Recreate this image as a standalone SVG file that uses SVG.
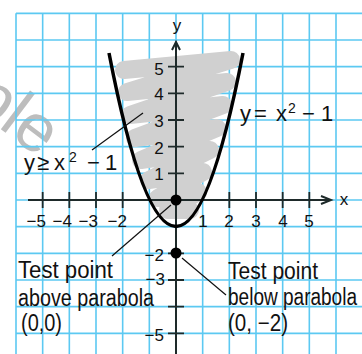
<svg xmlns="http://www.w3.org/2000/svg" width="362" height="354" viewBox="0 0 362 354">
<style>
.grid{stroke:#5CC9F2;stroke-width:1.6;fill:none}
.axis{stroke:#1E2A2A;stroke-width:2;fill:none}
.tick{stroke:#1E2A2A;stroke-width:1.8}
.lead{stroke:#111;stroke-width:1.2;fill:none}
.t{font-family:"Liberation Sans",Arial,sans-serif;fill:#111}
.num{font-size:17px}
.lab{font-size:23px}
.eq{font-size:22px}
.sup{font-size:14px}
.wm{font-family:"Liberation Sans",Arial,sans-serif;font-size:67px;fill:#BDBDBD}
</style>
<rect width="362" height="354" fill="#fff"/>
<text class="wm" transform="translate(39,158) rotate(37)" text-anchor="end">Sample</text>
<g id="grid">
<path class="grid" d="M16 13.33V354M42.67 13.33V354M69.33 13.33V354M96 13.33V354M122.67 13.33V354M149.33 13.33V354M176 13.33V354M202.67 13.33V354M229.33 13.33V354M256 13.33V354M282.67 13.33V354M309.33 13.33V354M336 13.33V354M16 13.33H362M16 40H362M16 66.67H362M16 93.33H362M16 120H362M16 146.67H362M16 173.33H362M16 200H362M16 226.67H362M16 253.33H362M16 280H362M16 306.67H362M16 333.33H362"/>
</g>
<g id="shading">
<path d="M124 70 L231 60 L127 92 L227 82 L130 115 L223 105 L135 138 L217 128 L141 160 L210 150 L149 180 L203 172 L158 198 L198 192 L168 210 L190 210" fill="none" stroke="#D0D0D0" stroke-width="18" stroke-linecap="round" stroke-linejoin="round"/>
</g>
<g id="axes">
<path class="axis" d="M28 200H331M321 196L331 200L321 204"/>
<path class="axis" d="M176 354V42M172 50L176 42L180 50"/>
<path class="tick" d="M168 66.67H184M168 93.33H184M168 120H184M168 146.67H184M168 173.33H184M168 253.33H184M168 280H184M168 306.67H184M168 333.33H184M42.67 192V208M69.33 192V208M96 192V208M122.67 192V208M229.33 192V208M256 192V208M282.67 192V208M309.33 192V208"/>
<text class="t num" x="344" y="205" text-anchor="middle">x</text>
<text class="t num" x="177" y="31" text-anchor="middle">y</text>
</g>
<g id="tick-labels" class="t num">
<text x="159" y="75" text-anchor="middle">5</text>
<text x="159" y="100" text-anchor="middle">4</text>
<text x="159" y="127" text-anchor="middle">3</text>
<text x="159" y="154" text-anchor="middle">2</text>
<text x="159" y="180" text-anchor="middle">1</text>
<text x="164" y="261" text-anchor="end">−2</text>
<text x="165" y="285" text-anchor="end">−3</text>
<text x="164" y="341" text-anchor="end">−5</text>
<text x="46" y="227" text-anchor="end">−5</text>
<text x="72" y="227" text-anchor="end">−4</text>
<text x="98" y="227" text-anchor="end">−3</text>
<text x="127" y="227" text-anchor="end">−2</text>
<text x="203" y="227" text-anchor="middle">1</text>
<text x="229" y="227" text-anchor="middle">2</text>
<text x="256" y="227" text-anchor="middle">3</text>
<text x="283" y="227" text-anchor="middle">4</text>
<text x="309" y="227" text-anchor="middle">5</text>
</g>
<g id="parabola">
<path d="M109 53 Q176 400 243 53" fill="none" stroke="#000" stroke-width="3.5"/>
</g>
<g id="connectors">
<path class="lead" d="M92 150L143 113"/>
<path class="lead" d="M112 256L171 205"/>
<path class="lead" d="M182 258L226 295"/>
</g>
<g id="point-above">
<circle cx="176" cy="200" r="5.5" fill="#000"/>
</g>
<g id="point-below">
<circle cx="176" cy="253" r="5.5" fill="#000"/>
</g>
<g id="label-inequality">
<text class="t eq" y="170"><tspan x="24">y</tspan><tspan x="37">≥</tspan><tspan x="54">x</tspan><tspan class="sup" x="69" y="162">2</tspan><tspan x="87" y="170">−</tspan><tspan x="105">1</tspan></text>
</g>
<g id="label-equation">
<text class="t eq" y="121"><tspan x="240">y</tspan><tspan x="254">=</tspan><tspan x="276">x</tspan><tspan class="sup" x="288" y="113">2</tspan><tspan x="302" y="121">−</tspan><tspan x="321">1</tspan></text>
</g>
<g id="label-above">
<text class="t lab" x="18" y="278" textLength="95" lengthAdjust="spacingAndGlyphs">Test point</text>
<text class="t lab" x="18" y="306" textLength="136" lengthAdjust="spacingAndGlyphs">above parabola</text>
<text class="t lab" x="21" y="331" textLength="41" lengthAdjust="spacingAndGlyphs">(0,0)</text>
</g>
<g id="label-below">
<text class="t lab" x="228" y="279" textLength="90" lengthAdjust="spacingAndGlyphs">Test point</text>
<text class="t lab" x="228" y="305" textLength="129" lengthAdjust="spacingAndGlyphs">below parabola</text>
<text class="t lab" x="228" y="331" textLength="60" lengthAdjust="spacingAndGlyphs">(0, −2)</text>
</g>
</svg>
